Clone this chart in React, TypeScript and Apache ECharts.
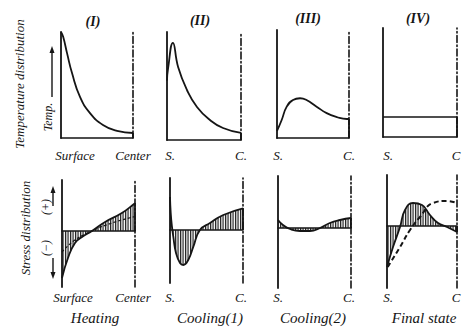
import React, { useEffect, useRef } from 'react';
import * as echarts from 'echarts';

// ---- labels ----
const panelTitles = ['(I)', '(II)', '(III)', '(IV)'];
const captions = ['Heating', 'Cooling(1)', 'Cooling(2)', 'Final state'];
const surfaceLabels = ['Surface', 'S.', 'S.', 'S.'];
const centerLabels = ['Center', 'C.', 'C.', 'C'];

// ---- temperature distribution (x: 0 = surface, 1 = center; y: relative temperature) ----
const tempI = [[0, 0.98], [0.03, 0.935], [0.083, 0.787], [0.153, 0.6], [0.264, 0.38], [0.403, 0.23], [0.583, 0.12], [0.778, 0.065], [1, 0.046]];
const tempII = [[0, 0.55], [0.014, 0.66], [0.08, 0.9], [0.15, 0.676], [0.27, 0.463], [0.405, 0.306], [0.58, 0.185], [0.757, 0.111], [1, 0.065]];
const tempIII = [[0, 0.065], [0.065, 0.167], [0.135, 0.29], [0.222, 0.352], [0.32, 0.368], [0.41, 0.352], [0.55, 0.29], [0.69, 0.23], [0.83, 0.194], [0.97, 0.176], [1, 0.176]];
const tempIV = [[0, 0.183], [1, 0.183]];

// ---- stress distribution (y: relative stress, + tension / - compression) ----
const stressI = [[0, -0.94], [0.082, -0.54], [0.178, -0.24], [0.274, -0.12], [0.41, 0], [0.59, 0.18], [0.82, 0.36], [0.986, 0.54], [1, 0.56]];
const stressIInner = [[0, -0.42], [0.178, -0.18], [0.41, 0], [0.685, 0.16], [1, 0.29]];
const stressII = [[0, 0.66], [0.01, 0.34], [0.027, 0.066], [0.045, -0.134], [0.082, -0.46], [0.137, -0.66], [0.182, -0.7], [0.25, -0.6], [0.32, -0.334], [0.41, 0], [0.548, 0.14], [0.73, 0.3], [1, 0.434]];
const stressIII = [[0, 0.16], [0.068, 0.06], [0.164, -0.02], [0.3, -0.06], [0.438, -0.06], [0.575, 0], [0.71, 0.1], [0.85, 0.16], [1, 0.2]];
const stressIV = [[0, -0.82], [0.086, -0.42], [0.186, -0.02], [0.257, 0.32], [0.371, 0.46], [0.5, 0.42], [0.614, 0.22], [0.729, 0.06], [0.857, -0.02], [1, -0.12]];
const stressIVDashed = [[0.01, -0.82], [0.186, -0.42], [0.329, -0.08], [0.471, 0.18], [0.657, 0.46], [0.857, 0.5], [1, 0.46]];

// ---- layout ----
const topGrids = [
  { left: 61, top: 32, width: 72, height: 106, min: 0, max: 0.98 },
  { left: 167, top: 32, width: 74, height: 108, min: 0, max: 1 },
  { left: 277, top: 30, width: 72, height: 108, min: 0, max: 1 },
  { left: 383, top: 28, width: 74, height: 109, min: 0, max: 1 },
];
const bottomGrids = [
  { left: 62, top: 180, width: 73, height: 107, min: -1.12, max: 1.02 },
  { left: 170, top: 178, width: 73, height: 105, min: -1.06, max: 1.04 },
  { left: 278, top: 176, width: 73, height: 112, min: -1.2, max: 1.04 },
  { left: 387, top: 175, width: 70, height: 113, min: -1.24, max: 1.02 },
];

const INK = '#151515';
const LABEL_FONT = "italic 13px 'Liberation Serif', serif";
const CAPTION_FONT = "italic 15px 'Liberation Serif', serif";

export default function App() {
  const ref = useRef<HTMLDivElement>(null);
  useEffect(() => {
    if (!ref.current) return;
    const chart = echarts.init(ref.current, null, { renderer: 'svg' });

    const hatchSvg = '<svg xmlns="http://www.w3.org/2000/svg" width="2.5" height="3"><rect x="0" y="0" width="1.2" height="3" fill="#1a1a1a"/></svg>';
    const hatch: any = {
      image: 'data:image/svg+xml;charset=utf-8,' + encodeURIComponent(hatchSvg),
      repeat: 'repeat',
      imageWidth: 2.5,
      imageHeight: 3,
    };

    const grids = [...topGrids, ...bottomGrids];
    const grid: any[] = [];
    const xAxis: any[] = [];
    const yAxis: any[] = [];
    const hidden = { axisTick: { show: false }, axisLabel: { show: false }, splitLine: { show: false } };
    grids.forEach((g, i) => {
      grid.push({ left: g.left, top: g.top, width: g.width, height: g.height });
      xAxis.push({ gridIndex: i, type: 'value', min: 0, max: 1, axisLine: { show: true, onZero: true, lineStyle: { color: INK, width: 1.6 } }, ...hidden });
      yAxis.push({ gridIndex: i, type: 'value', min: g.min, max: g.max, position: 'left', axisLine: { show: true, onZero: false, lineStyle: { color: INK, width: 1.8 } }, ...hidden });
      yAxis.push({ gridIndex: i, type: 'value', min: g.min, max: g.max, position: 'right', axisLine: { show: true, onZero: false, lineStyle: { color: INK, width: 1.6, type: [7, 2.5, 1.5, 2.5] } }, ...hidden });
    });

    const series: any[] = [];
    const addLine = (gi: number, data: number[][], opts: any = {}) => {
      series.push({
        type: 'line', xAxisIndex: gi, yAxisIndex: gi * 2, data, symbol: 'none', smooth: opts.smooth ?? 0.5,
        lineStyle: { color: INK, width: 1.8, ...(opts.lineStyle || {}) },
        areaStyle: opts.area ? { color: hatch, origin: 0, opacity: 1 } : undefined,
        silent: true, z: opts.z || 3,
      });
    };
    const addCenterSolid = (gi: number, data: number[][]) => {
      const last = data[data.length - 1][1];
      series.push({
        type: 'line', xAxisIndex: gi, yAxisIndex: gi * 2, data: [[1, 0], [1, last]], symbol: 'none',
        lineStyle: { color: INK, width: 1.8 }, silent: true, z: 4,
      });
    };

    const temps = [tempI, tempII, tempIII, tempIV];
    temps.forEach((d, i) => {
      addLine(i, d, i === 3 ? { lineStyle: { width: 1.6 }, smooth: false } : {});
      addCenterSolid(i, d);
    });
    const stresses = [stressI, stressII, stressIII, stressIV];
    stresses.forEach((d, i) => {
      addLine(4 + i, d, { area: true });
      addCenterSolid(4 + i, d);
    });
    addLine(4, stressIInner, { lineStyle: { width: 1.2, type: [3, 2] }, z: 5 });
    addLine(7, stressIVDashed, { lineStyle: { width: 2, type: [5, 3] }, z: 5 });

    const txt = (text: string, x: number, y: number, font = LABEL_FONT, rotation = 0, align = 'center') => ({
      type: 'text', x, y, rotation, silent: true,
      style: { text, font, fill: INK, textAlign: align, textVerticalAlign: 'middle' },
    });
    const titleX = [93, 200, 308, 418];
    const titleY = [21, 20, 18, 18];
    const graphic: any[] = [];
    panelTitles.forEach((t, i) => graphic.push(txt(t, titleX[i], titleY[i], "italic bold 14px 'Liberation Serif', serif")));

    const sX = [75, 170, 278, 388];
    const cX = [133, 241, 349, 456];
    surfaceLabels.forEach((t, i) => {
      graphic.push(txt(t, sX[i], 155));
      graphic.push(txt(centerLabels[i], cX[i], 155));
      graphic.push(txt(t, sX[i] + (i === 0 ? -2 : 0), 297));
      graphic.push(txt(centerLabels[i], cX[i], 297));
    });
    const capX = [95, 210, 313, 424];
    captions.forEach((t, i) => graphic.push(txt(t, capX[i], 318, CAPTION_FONT)));

    graphic.push(txt('Temperature distribution', 19, 84, "italic 13px 'Liberation Serif', serif", Math.PI / 2));
    graphic.push(txt('Temp.', 48, 117, "italic 12px 'Liberation Serif', serif", Math.PI / 2));
    graphic.push(txt('Stress distribution', 25, 228, "italic 13px 'Liberation Serif', serif", Math.PI / 2));
    graphic.push(txt('(+)', 46, 207, "italic 12px 'Liberation Serif', serif", Math.PI / 2));
    graphic.push(txt('(\u2212)', 46, 248, "italic 12px 'Liberation Serif', serif", Math.PI / 2));

    const arrow = (x: number, y1: number, y2: number) => {
      const dir = y2 < y1 ? -1 : 1;
      graphic.push({ type: 'line', silent: true, shape: { x1: x, y1, x2: x, y2: y2 - dir * 5 }, style: { stroke: INK, lineWidth: 1.4 } });
      graphic.push({ type: 'polygon', silent: true, shape: { points: [[x, y2], [x - 2.5, y2 - dir * 7], [x + 2.5, y2 - dir * 7]] }, style: { fill: INK } });
    };
    arrow(52, 97, 46);
    arrow(53, 206, 186);
    arrow(53, 258, 279);

    chart.setOption({
      animation: false,
      backgroundColor: '#ffffff',
      grid, xAxis, yAxis, series, graphic,
    });
    return () => chart.dispose();
  }, []);
  return <div ref={ref} style={{ position: 'absolute', left: 0, top: 0, width: 465, height: 327 }} />;
}
